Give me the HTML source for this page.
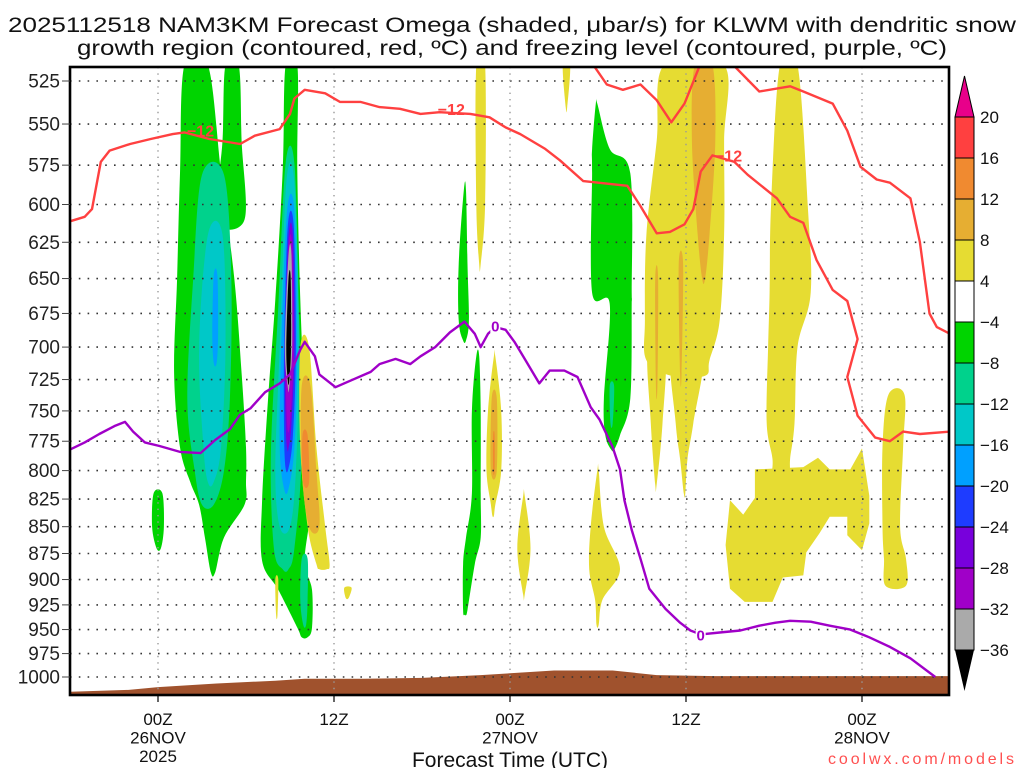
<!DOCTYPE html>
<html><head><meta charset="utf-8">
<style>
html,body{margin:0;padding:0;background:#fff;}
svg{display:block;font-family:"Liberation Sans","DejaVu Sans",sans-serif;}
</style></head>
<body>
<svg id="chart" width="1024" height="768" viewBox="0 0 1024 768" xmlns="http://www.w3.org/2000/svg">
<g>
<text x="512" y="32" text-anchor="middle" font-size="21" textLength="1008" lengthAdjust="spacingAndGlyphs" fill="#111">2025112518 NAM3KM Forecast Omega (shaded, μbar/s) for KLWM with dendritic snow</text>
<text x="512" y="55" text-anchor="middle" font-size="21" textLength="870" lengthAdjust="spacingAndGlyphs" fill="#111">growth region (contoured, red, ºC) and freezing level (contoured, purple, ºC)</text>
</g>
<defs><clipPath id="plotclip"><rect x="70" y="67" width="879" height="628"/></clipPath></defs>
<g id="shading" clip-path="url(#plotclip)"></g>
<g id="terrain" clip-path="url(#plotclip)"></g>
<g id="grid"></g>
<g id="contours" clip-path="url(#plotclip)"></g>
<rect x="70" y="67" width="879" height="628" fill="none" stroke="#000" stroke-width="2.6"/>
<g id="yaxis"></g>
<g id="xaxis"></g>
<text x="510" y="767" text-anchor="middle" font-size="21" fill="#111">Forecast Time (UTC)</text>
<text x="1014" y="764" text-anchor="end" font-size="16" fill="#ff5050" textLength="186" lengthAdjust="spacing">coolwx.com/models</text>
<g id="colorbar"></g>
</svg>
<script>
// ---- axis data ----
const pressureTicks=[525,550,575,600,625,650,675,700,725,750,775,800,825,850,875,900,925,950,975,1000];
const timeTicks=[0,12,24,36,48];
const timeLabels=[["00Z","26NOV","2025"],["12Z"],["00Z","27NOV"],["12Z"],["00Z","28NOV"]];
const cbLevels=["20","16","12","8","4","−4","−8","−12","−16","−20","−24","−28","−32","−36"];
const cbColors=["#ff4040","#f08a30","#e6ae32","#e6dc32","#ffffff","#00d400","#00d28c","#00c8c8","#00a0ff","#1e3cff","#7800dc","#a000c8","#aaaaaa"];
// ---- surface pressure (terrain) ----
const sfcHours=[-6,-2,0,4,8,10,14,18,22,24,27,31,34,38,44,48,54];
const sfcPres=[1016,1014,1011,1007,1004,1002,1002,1001,998,996,993,993,998,999,999,999,999];
// ---- -12C contour segments [hour, hPa] ----
const red12Main=[[-6,611],[-5,608],[-4.5,603],[-3.9,573],[-3.3,566],[-1.9,562],[-0.5,559],[1,556],[1.8,555],[3.5,559],[5.6,562],[6.6,557],[8.3,553],[9,544],[9.3,535],[10,530],[11.4,532],[12.4,537],[13.8,537],[15.1,540],[16.5,541],[17.9,544],[19.2,543],[21.3,544],[22.6,546],[23.7,552],[24.7,556],[26.4,565],[27.4,572],[29,585],[32,588],[32.9,601],[34,619],[34.9,618],[35.9,613],[36.5,603],[37,579],[37.8,569],[39.3,573],[40.2,581],[42.2,596],[43.1,608],[44,612],[44.9,637],[46,658],[47,666],[47.7,694],[47,723],[47.7,754],[48.9,772],[49.9,775],[50.8,767],[51.95,769],[54,767]];
const red12Upper=[[29.6,515],[30.6,527],[31.7,530],[32.9,527],[34,536],[35,549],[35.9,538],[37,515]];
const red12Right=[[39.1,515],[41,531],[43.1,528],[44,531],[46,538],[47,554],[47.9,576],[49,584],[49.9,586],[51.3,596],[51.95,625],[52.6,675],[53.1,685],[54,690]];
const red12Labels=[[2.9,554],[20.0,541],[38.9,569]];
// ---- 0C contour ----
const frz0=[[-6,782],[-5,776],[-4,769],[-2.9,762],[-2.25,759],[-1.7,767],[-0.9,776],[0.1,779],[1.5,784],[2.9,785],[3.9,774],[4.9,765],[5.6,753],[6.3,748],[7.3,735],[8.3,728],[9,721],[9.7,702],[10,696],[10.7,707],[11,721],[12.1,731],[13.1,726],[14.5,719],[15.1,713],[16.2,709],[17.2,713],[17.9,707],[18.9,700],[19.9,689],[20.9,681],[21.6,690],[22,700],[22.5,690],[23,685],[23.7,687],[24.3,696],[25,709],[26,728],[26.7,718],[27.7,718],[28.6,723],[29.5,747],[30.1,757],[31,780],[31.5,799],[31.8,826],[32.3,853],[32.9,880],[33.5,909],[34.6,929],[35.6,943],[36.3,951],[37,955],[38.3,953],[39.7,951],[41,946],[42.1,943],[43.1,941],[44.5,942],[45.8,946],[47.2,950],[48.5,958],[49.9,968],[51.3,980],[53,1000]];
const frz0Labels=[[23.0,684],[37.0,955]];
// ---- omega shaded regions: rows [hPa, leftHour, rightHour] ----
const blobA_g=[[516,1.8,3.4],[580,1.5,4.3],[650,1.3,5.2],[720,1.1,5.7],[780,1.5,6.0],[810,2.2,6.0],[830,2.8,5.9],[860,3.2,4.5],[893,3.6,3.9]];
const blobA2_g=[[516,4.6,5.5],[560,4.4,5.7],[610,4.0,5.9]];
const blobA_t=[[581,3.0,4.5],[650,2.4,5.0],[740,2.0,4.9],[800,2.5,4.5],[830,3.0,3.8]];
const blobA_c=[[620,3.4,4.4],[700,2.8,4.6],[780,3.1,4.3],[810,3.4,3.8]];
const blobA_b=[[648,3.8,4.05],[690,3.7,4.1],[712,3.8,4.0]];
const blobB_g=[[516,8.7,9.5],[578,8.5,9.5],[665,8.0,9.7],[741,7.5,10.0],[826,7.1,10.4],[882,7.1,10.0],[910,8.2,10.5],[948,9.5,10.5],[958,9.8,10.2]];
const blobB_t=[[574,8.7,9.3],[670,8.2,9.6],[785,7.7,9.8],[870,7.9,9.3],[890,8.5,8.9]];
const blobB2_t=[[880,9.8,10.2],[920,9.7,10.2],[945,9.9,10.1]];
const blobB_c=[[586,8.75,9.3],[700,8.3,9.6],[800,8.0,9.4],[850,8.3,9.0]];
const blobB_b=[[604,8.8,9.3],[700,8.4,9.5],[780,8.3,9.3],[816,8.6,8.9]];
const blobB_db=[[614,8.85,9.25],[700,8.6,9.4],[770,8.6,9.2],[798,8.7,8.9]];
const blobB_pu=[[621,8.9,9.2],[700,8.65,9.3],[760,8.7,9.1],[781,8.8,8.9]];
const blobB_mg=[[628,8.9,9.15],[700,8.7,9.25],[760,8.8,9.0]];
const blobB_gr=[[634,8.9,9.1],[700,8.65,9.15],[731,8.85,8.95]];
const blobB_bk=[[650,8.9,9.05],[700,8.75,9.07],[726,8.85,8.95]];
const blobC_y=[[700,9.7,10.3],[780,9.7,10.8],[850,10.2,11.4],[885,10.8,11.7],[890,11.0,11.5]];
const blobC_o1=[[730,9.8,10.4],[800,9.8,10.8],[850,10.3,11.0]];
const blobC_o2=[[770,9.85,10.2],[810,9.9,10.3]];
const blobC2_y=[[900,8.0,8.2],[935,8.05,8.15]];
const blobC3_y=[[908,12.7,13.2],[918,12.8,13.0]];
const blobD_g=[[820,-0.3,0.3],[850,-0.4,0.4],[870,-0.1,0.2]];
const blobE_g=[[591,20.85,21.0],[640,20.5,21.1],[680,20.5,21.2],[695,20.8,21.0]];
const blobE2_g=[[707,21.7,21.9],[750,21.4,22.0],[820,21.4,22.0],[860,21.0,22.0],[885,20.8,21.6],[930,20.8,21.1],[935,20.9,21.0]];
const blobE_y=[[707,22.9,23.0],[750,22.5,23.4],[800,22.4,23.4],[830,22.7,23.0],[840,22.8,22.9]];
const blobE_o1=[[740,22.75,23.1],[800,22.7,23.1]];
const blobE_o2=[[770,22.85,22.95],[800,22.85,22.95]];
const blobE3_y=[[516,21.7,22.3],[600,21.7,22.3],[640,21.9,22.0]];
const blobE4_y=[[516,27.6,28.1],[540,27.8,27.9]];
const blobE5_y=[[822,24.9,25.0],[870,24.5,25.4],[915,24.9,25.0]];
const blobF_g=[[538,29.85,29.95],[565,29.6,30.8],[580,29.6,32.2],[660,29.6,32.3],[668,30.8,32.3],[740,30.4,32.2],[770,30.5,31.5],[782,30.9,31.1]];
const blobF_t=[[730,30.8,31.1],[760,30.85,31.0]];
const blobF_y=[[800,29.95,30.05],[850,29.5,30.4],[890,29.4,31.5],[920,29.8,30.3],[945,29.9,30.05]];
const blobG_y=[[516,34.5,38.6],[560,34.0,38.6],[620,33.3,38.6],[680,33.2,38.3],[710,33.3,37.6],[722,35.0,37.3]];
const blobG2_y=[[700,33.4,34.6],[760,33.6,34.4],[812,33.9,34.0]];
const blobG3_y=[[700,35.0,37.2],[760,35.3,36.5],[790,35.6,36.1],[820,35.85,35.95]];
const blobG_o1=[[516,36.6,37.8],[560,36.4,38.0],[620,36.8,37.6],[650,37.1,37.3]];
const blobG2_o1=[[640,35.5,35.8],[720,35.6,35.7]];
const blobG3_o1=[[650,33.9,34.1],[730,33.95,34.05]];
const blobH_y=[[516,42.4,43.6],[600,41.8,44.3],[660,41.7,44.5],[700,41.6,43.6],[760,41.5,43.4],[790,41.9,43.1],[810,41.9,43.0]];
const blobI_y=[[737,49.8,50.9],[780,49.4,50.8],[850,49.4,50.6],[880,49.5,51.0],[906,49.6,51.0]];
// polygon region [hour, hPa]
const blobHpoly_y=[[40.7,799],[44.0,797],[45.0,789],[45.8,799],[47.2,799],[48.0,781],[48.5,822],[48.5,847],[48.0,872],[47.0,858],[47.0,841],[45.8,841],[45.1,856],[44.2,874],[44.0,896],[42.6,898],[41.9,922],[40.0,922],[39.0,909],[38.7,867],[39.0,826],[39.9,839],[40.7,824]];

const LV={y:"#e6dc32",o1:"#e6ae32",o2:"#f08a30",g:"#00d400",t:"#00d28c",c:"#00c8c8",b:"#00a0ff",db:"#1e3cff",pu:"#7800dc",mg:"#a000c8",gr:"#aaaaaa",bk:"#000000"};
const rowBlobs=[
 ["blob-a-green",blobA_g,"g"],["blob-a2-green",blobA2_g,"g"],["blob-a-teal",blobA_t,"t"],["blob-a-cyan",blobA_c,"c"],["blob-a-blue",blobA_b,"b"],
 ["blob-b-green",blobB_g,"g"],["blob-b-teal",blobB_t,"t"],["blob-b2-teal",blobB2_t,"t"],["blob-b-cyan",blobB_c,"c"],["blob-b-blue",blobB_b,"b"],["blob-b-darkblue",blobB_db,"db"],["blob-b-purple",blobB_pu,"pu"],["blob-b-magenta",blobB_mg,"mg"],["blob-b-gray",blobB_gr,"gr"],["blob-b-black",blobB_bk,"bk"],
 ["blob-c-yellow",blobC_y,"y"],["blob-c-orange",blobC_o1,"o1"],["blob-c-darkorange",blobC_o2,"o2"],["blob-c2-yellow",blobC2_y,"y"],["blob-c3-yellow",blobC3_y,"y"],
 ["blob-d-green",blobD_g,"g"],["blob-e-green",blobE_g,"g"],["blob-e2-green",blobE2_g,"g"],["blob-e-yellow",blobE_y,"y"],["blob-e-orange",blobE_o1,"o1"],["blob-e-darkorange",blobE_o2,"o2"],
 ["blob-e3-yellow",blobE3_y,"y"],["blob-e4-yellow",blobE4_y,"y"],["blob-e5-yellow",blobE5_y,"y"],
 ["blob-f-green",blobF_g,"g"],["blob-f-teal",blobF_t,"t"],["blob-f-yellow",blobF_y,"y"],
 ["blob-g-yellow",blobG_y,"y"],["blob-g2-yellow",blobG2_y,"y"],["blob-g3-yellow",blobG3_y,"y"],["blob-g-orange",blobG_o1,"o1"],["blob-g2-orange",blobG2_o1,"o1"],["blob-g3-orange",blobG3_o1,"o1"],
 ["blob-h-yellow",blobH_y,"y"],["blob-i-yellow",blobI_y,"y"]
];

// ---- scales ----
const X0=70,X1=949,Y0=67,Y1=695;
function xs(h){return 158+h*(176/12);}
function ys(p){return 81+596*Math.log(p/525)/Math.log(1000/525);}
const NS="http://www.w3.org/2000/svg";
function mk(tag,attrs,parent){const e=document.createElementNS(NS,tag);for(const k in attrs)e.setAttribute(k,attrs[k]);parent.appendChild(e);return e;}
function smoothClosed(pts){
  let n=pts.length,d="M"+pts[0][0].toFixed(1)+","+pts[0][1].toFixed(1);
  for(let i=0;i<n;i++){
    const p0=pts[(i-1+n)%n],p1=pts[i],p2=pts[(i+1)%n],p3=pts[(i+2)%n];
    const c1=[p1[0]+(p2[0]-p0[0])/6,p1[1]+(p2[1]-p0[1])/6];
    const c2=[p2[0]-(p3[0]-p1[0])/6,p2[1]-(p3[1]-p1[1])/6];
    d+="C"+c1[0].toFixed(1)+","+c1[1].toFixed(1)+" "+c2[0].toFixed(1)+","+c2[1].toFixed(1)+" "+p2[0].toFixed(1)+","+p2[1].toFixed(1);
  }
  return d+"Z";
}
const shading=document.getElementById("shading");
rowBlobs.forEach(b=>{
  const rows=b[1],pts=[];
  rows.forEach(r=>pts.push([xs(r[1]),ys(r[0])]));
  for(let i=rows.length-1;i>=0;i--)pts.push([xs(rows[i][2]),ys(rows[i][0])]);
  const el=mk("path",{d:smoothClosed(pts),fill:LV[b[2]]},shading);
  
  
});
{
  const pts=blobHpoly_y.map(q=>[xs(q[0]),ys(q[1])]);
  const el=mk("polygon",{points:pts.map(q=>q[0].toFixed(1)+","+q[1].toFixed(1)).join(" "),fill:LV.y},shading);
  
  
}
// terrain
{
  let d="M"+xs(sfcHours[0])+","+Y1;
  for(let i=0;i<sfcHours.length;i++)d+="L"+xs(sfcHours[i]).toFixed(1)+","+ys(sfcPres[i]).toFixed(1);
  d+="L"+xs(sfcHours[sfcHours.length-1])+","+Y1+"Z";
  const el=mk("path",{d:d,fill:"#a0522d"},document.getElementById("terrain"));
  
  
}
// grid & y axis
const grid=document.getElementById("grid"),yaxis=document.getElementById("yaxis");
pressureTicks.forEach(p=>{
  const y=ys(p);
  const g=mk("line",{x1:X0,x2:X1,y1:y,y2:y,stroke:"#333","stroke-width":1.6,"stroke-dasharray":"1.6 7.2"},grid);
  
  
  const t=mk("line",{x1:X0-8,x2:X0,y1:y,y2:y,stroke:"#444","stroke-width":1},yaxis);
  
  
  const l=mk("text",{x:X0-10,y:y+6.5,"text-anchor":"end","font-size":19,fill:"#222"},yaxis);
  l.textContent=p;
  
  
});
const xaxis=document.getElementById("xaxis");
timeTicks.forEach((h,i)=>{
  const x=xs(h);
  const g=mk("line",{x1:x,x2:x,y1:Y0,y2:Y1,stroke:"#999","stroke-width":1.4,"stroke-dasharray":"1.4 5"},grid);
  
  
  const t=mk("line",{x1:x,x2:x,y1:Y1,y2:Y1+7,stroke:"#000","stroke-width":1.2},xaxis);
  
  
  timeLabels[i].forEach((s,j)=>{
    const l=mk("text",{x:x,y:725+j*18.5,"text-anchor":"middle","font-size":17,fill:"#111"},xaxis);
    l.textContent=s;
    
    
  });
});
// contours
const cont=document.getElementById("contours");
function line(pts,color,name){
  const d=pts.map((q,i)=>(i?"L":"M")+xs(q[0]).toFixed(1)+","+ys(q[1]).toFixed(1)).join("");
  const el=mk("path",{d:d,fill:"none",stroke:color,"stroke-width":2.4,"stroke-linejoin":"round"},cont);
  
  
}
line(red12Main,"#ff4040","dgz-contour-main");
line(red12Upper,"#ff4040","dgz-contour-upper");
line(red12Right,"#ff4040","dgz-contour-right");
line(frz0,"#a000c8","freezing-level-contour");
red12Labels.forEach((q,i)=>{
  const x=xs(q[0]),y=ys(q[1]);
  const t=mk("text",{x:x,y:y+6,"text-anchor":"middle","font-size":16,"font-weight":"bold",fill:"#ff4040"},cont);
  t.textContent="−12";
  
  
});
frz0Labels.forEach((q,i)=>{
  const x=xs(q[0]),y=ys(q[1]);
  mk("rect",{x:x-5,y:y-8,width:10,height:16,fill:"#fff"},cont);
  const t=mk("text",{x:x,y:y+6,"text-anchor":"middle","font-size":15,"font-weight":"bold",fill:"#a000c8"},cont);
  t.textContent="0";
  
  
});
// colorbar
const cb=document.getElementById("colorbar");
const cbX=955,cbW=19,cbTop=117,cbBox=(650-117)/13;
{
  const t=mk("polygon",{points:`${cbX},${cbTop} ${cbX+cbW},${cbTop} ${cbX+cbW/2},76`,fill:"#e8008a",stroke:"#000","stroke-width":1},cb);
  
  
  const b=mk("polygon",{points:`${cbX},650 ${cbX+cbW},650 ${cbX+cbW/2},691`,fill:"#000"},cb);
  
  
}
cbColors.forEach((c,i)=>{
  const r=mk("rect",{x:cbX,y:cbTop+i*cbBox,width:cbW,height:cbBox,fill:c,stroke:"#000","stroke-width":1},cb);
  
  
});
cbLevels.forEach((s,i)=>{
  const t=mk("text",{x:980,y:cbTop+i*cbBox+6,"font-size":17,fill:"#111"},cb);
  t.textContent=s;
  
  
});
</script>
</body></html>
